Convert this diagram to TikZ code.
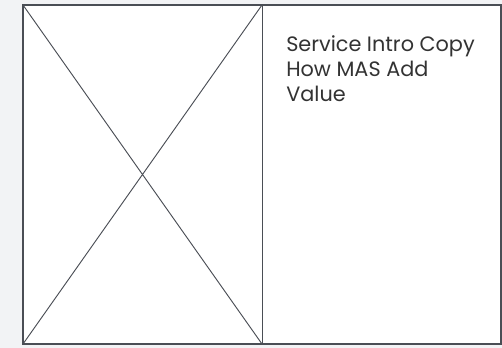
\documentclass[tikz,border=0pt]{standalone}
\usepackage{fontspec}
\setmainfont{Poppins}
\usepackage{xcolor}
\usetikzlibrary{positioning}
\definecolor{pagebg}{HTML}{F2F3F5}
\definecolor{wireline}{HTML}{4A4E55}
\tikzset{x=0.75pt, y=-0.75pt,
         frame/.style={draw=wireline, line width=0.9pt, fill=white},
         cross/.style={draw=wireline, line width=0.7pt},
         copytext/.style={anchor=north west, align=left, inner sep=0pt,
                          font=\fontsize{15.6}{19}\selectfont, text=black!80},
         }

\begin{document}
\begin{tikzpicture}
    \fill[pagebg] (0,0) rectangle (502,348);
    \useasboundingbox (0,0) rectangle (502,348);

    \coordinate (tl) at (23,5);
    \coordinate (br) at (501,344);
    \coordinate (mt) at (262,5);
    \coordinate (mb) at (262,344);

    \draw[frame] (tl) rectangle (br);
    \draw[cross] (mt) -- (mb);
    \draw[cross] (tl) -- (mb)
                 (mt) -- (tl |- br);

    \node[copytext] (intro) at (286,35) {Service Intro Copy\\How MAS Add\\Value};
\end{tikzpicture}
\end{document}
